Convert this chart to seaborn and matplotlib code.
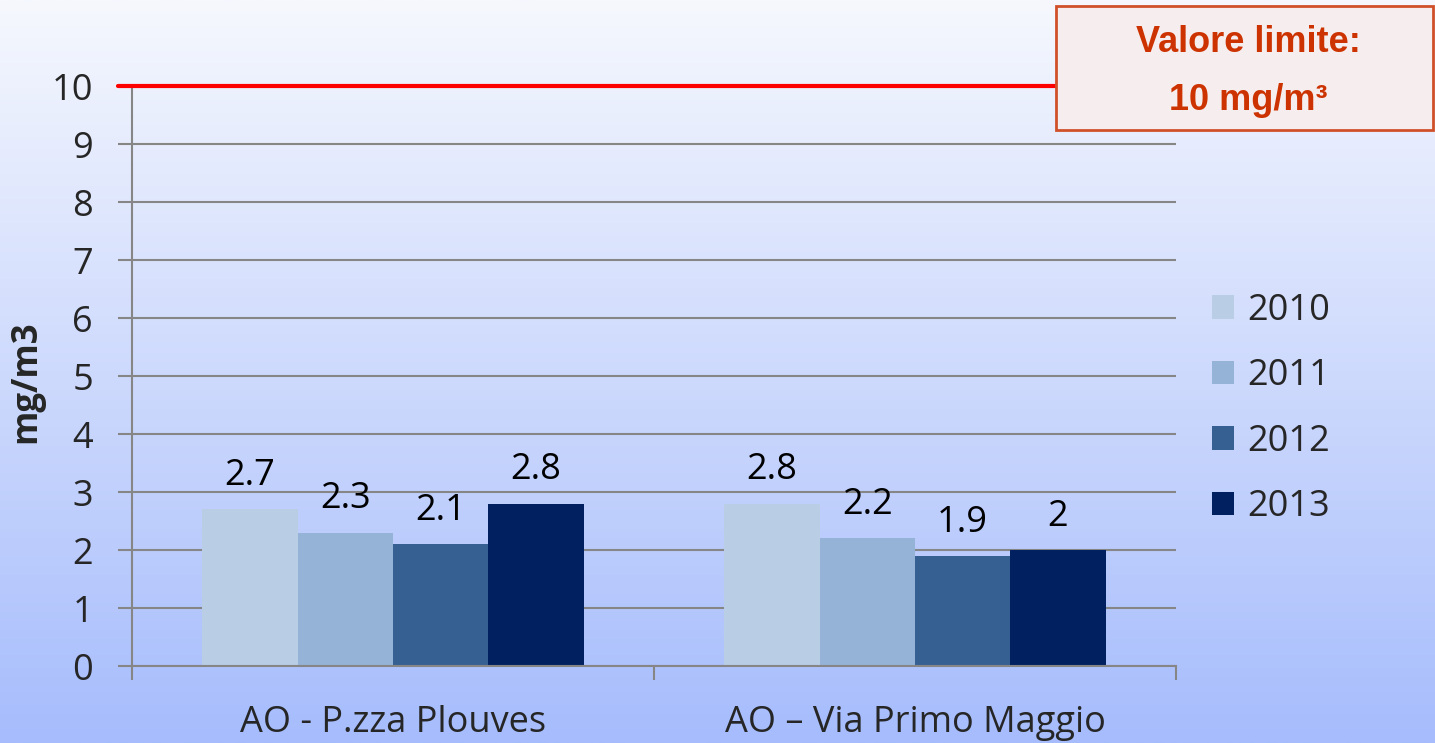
import numpy as np
import pandas as pd
import matplotlib
matplotlib.use("Agg")
import matplotlib.pyplot as plt
import seaborn as sns
from matplotlib.patches import Rectangle

# data
stations = ["AO - P.zza Plouves", "AO \u2013 Via Primo Maggio"]
years = ["2010", "2011", "2012", "2013"]
values_plouves = [2.7, 2.3, 2.1, 2.8]
values_maggio = [2.8, 2.2, 1.9, 2.0]
limit_value = 10
colors = ["#b9cde5", "#95b3d7", "#366092", "#002060"]

df = pd.DataFrame({
    "station": [stations[0]] * 4 + [stations[1]] * 4,
    "year": years * 2,
    "value": values_plouves + values_maggio,
})

sns.set_style("white")
plt.rcParams["font.family"] = ["Open Sans", "DejaVu Sans"]

fig = plt.figure(figsize=(14.35, 7.43), dpi=100)

# gradient background
bg = fig.add_axes([0, 0, 1, 1], zorder=-10)
top = np.array([246, 248, 254]) / 255
bottom = np.array([166, 188, 252]) / 255
t = np.linspace(0, 1, 256)[:, None]
grad = top[None, None, :] * (1 - t[:, :, None]) + bottom[None, None, :] * t[:, :, None]
bg.imshow(grad, aspect="auto", extent=[0, 1, 0, 1])
bg.axis("off")

ax = fig.add_axes([132 / 1435, 1 - 666 / 743, (1176 - 132) / 1435, (666 - 86) / 743])
ax.patch.set_alpha(0)

sns.barplot(data=df, x="station", y="value", hue="year", palette=colors,
            width=0.73, saturation=1, linewidth=0, ax=ax)

for cont in ax.containers:
    ax.bar_label(cont, fmt="%g", padding=11, fontsize=26, color="black")

ax.set_ylim(0, 10)
ax.set_xlim(-0.5, 1.5)
ax.set_yticks(range(0, 11))
ax.tick_params(axis="y", labelsize=26, length=10, width=1.5, color="#868686",
               left=True, pad=18)
ax.yaxis.grid(True, color="#868686", linewidth=1.5)
ax.set_axisbelow(True)

ax.set_xticks([-0.5, 0.5, 1.5], minor=True)
ax.tick_params(axis="x", which="minor", length=10, width=1.5, color="#868686", bottom=True)
ax.tick_params(axis="x", which="major", length=0, labelsize=26, pad=28)

ax.set_xlabel("")
ax.set_ylabel("mg/m3", fontsize=25, fontweight="bold")
ax.yaxis.set_label_coords(-88 / 1044, 0.49)

for s in ["top", "right"]:
    ax.spines[s].set_visible(False)
for s in ["left", "bottom"]:
    ax.spines[s].set_color("#868686")
    ax.spines[s].set_linewidth(1.5)

# limit line
ax.axhline(limit_value, xmin=-14 / 1044, xmax=1.0, color="#ff0000",
           linewidth=3, clip_on=False, zorder=5)

# legend
ax.legend(loc="center left", bbox_to_anchor=(1194 / 1435, 1 - 409 / 743),
          bbox_transform=fig.transFigure, frameon=False, fontsize=26,
          handlelength=0.62, handleheight=0.62, handletextpad=0.35,
          labelspacing=0.82, borderpad=0)

# limit value box
box = Rectangle((1056 / 1435, 1 - 130 / 743), (1433 - 1056) / 1435, (130 - 6) / 743,
                transform=fig.transFigure, facecolor="#f6eeee", edgecolor="#d0502a",
                linewidth=2, zorder=10)
fig.add_artist(box)
fig.text(1248 / 1435, 1 - 42 / 743, "Valore limite:", ha="center", va="center",
         fontsize=26, fontweight="bold", color="#cc3300", family="Liberation Sans",
         zorder=11)
fig.text(1248 / 1435, 1 - 100 / 743, "10 mg/m\u00b3", ha="center", va="center",
         fontsize=26, fontweight="bold", color="#cc3300", family="Liberation Sans",
         zorder=11)

fig.savefig("out.png", dpi=100)
